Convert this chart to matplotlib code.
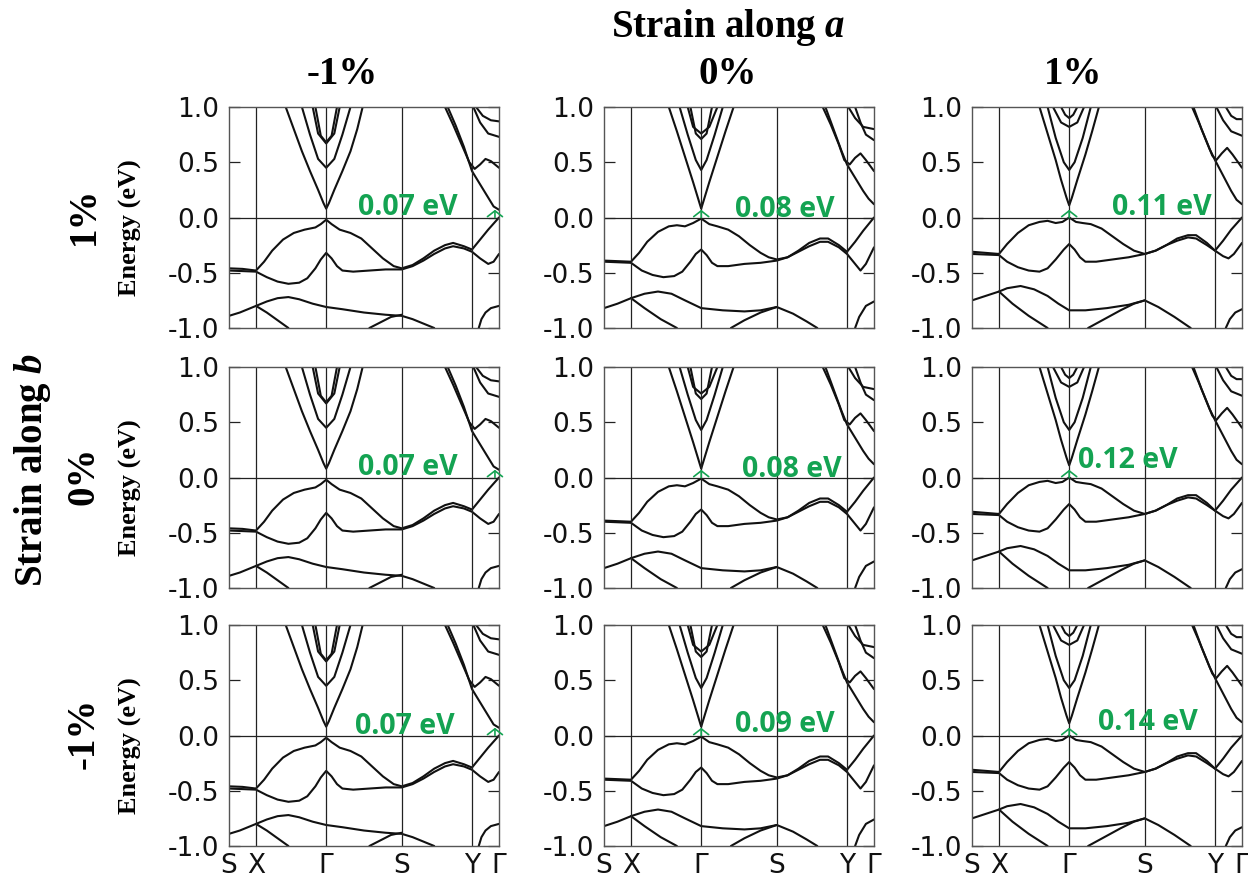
"""
Band structures of the strained monolayer: 3x3 grid
(strain along a across columns, strain along b down rows).
"""
import matplotlib
matplotlib.use('Agg')
import matplotlib.pyplot as plt

# ==============================================================================
# Data
# ==============================================================================
K_POS = [0.0, 0.10, 0.36, 0.64, 0.90, 1.0]
K_LABELS = ['S', 'X', 'Γ', 'S', 'Y', 'Γ']
STRAIN_A = ['-1%', '0%', '1%']
STRAIN_B = ['1%', '0%', '-1%']
GAPS = [['0.07 eV', '0.08 eV', '0.11 eV'],
        ['0.07 eV', '0.08 eV', '0.12 eV'],
        ['0.07 eV', '0.09 eV', '0.14 eV']]
# k of the gap arrow for each column
GAP_K = [0.985, 0.36, 0.36]

# bands for strain a = -1%  (list of (k, E) points per band)
BANDS_A_M1 = [
    [(0.21, 1.0), (0.24, 0.80), (0.27, 0.60), (0.30, 0.42), (0.33, 0.25), (0.35, 0.13), (0.36, 0.08),
     (0.37, 0.13), (0.39, 0.25), (0.42, 0.42), (0.45, 0.60), (0.475, 0.80), (0.495, 1.0)],
    [(0.27, 1.0), (0.30, 0.75), (0.33, 0.53), (0.36, 0.45), (0.39, 0.53), (0.42, 0.75), (0.45, 1.0)],
    [(0.31, 1.0), (0.33, 0.76), (0.36, 0.67), (0.39, 0.76), (0.41, 1.0)],
    [(0.32, 1.0), (0.34, 0.74), (0.36, 0.68), (0.38, 0.74), (0.40, 1.0)],
    [(0.80, 1.0), (0.83, 0.84), (0.86, 0.67), (0.89, 0.50), (0.91, 0.44), (0.93, 0.48), (0.95, 0.53),
     (0.97, 0.51), (1.0, 0.45)],
    [(0.81, 1.0), (0.84, 0.83), (0.87, 0.64), (0.90, 0.42), (0.93, 0.30), (0.96, 0.18), (0.98, 0.10),
     (1.0, 0.07)],
    [(0.905, 1.0), (0.93, 0.86), (0.96, 0.76), (1.0, 0.73)],
    [(0.915, 1.0), (0.94, 0.92), (0.97, 0.88), (1.0, 0.87)],
    [(0.0, -0.46), (0.05, -0.465), (0.1, -0.48), (0.13, -0.40), (0.16, -0.30), (0.20, -0.20),
     (0.24, -0.14), (0.28, -0.11), (0.32, -0.09), (0.34, -0.06), (0.36, -0.02), (0.38, -0.06),
     (0.41, -0.11), (0.45, -0.14), (0.49, -0.19), (0.53, -0.28), (0.57, -0.37), (0.61, -0.44),
     (0.64, -0.46), (0.68, -0.43), (0.72, -0.37), (0.76, -0.30), (0.80, -0.25), (0.83, -0.23),
     (0.87, -0.26), (0.90, -0.29), (0.93, -0.20), (0.96, -0.11), (1.0, 0.0)],
    [(0.0, -0.48), (0.05, -0.485), (0.1, -0.49), (0.14, -0.54), (0.18, -0.58), (0.22, -0.60),
     (0.26, -0.59), (0.29, -0.55), (0.32, -0.46), (0.34, -0.38), (0.36, -0.32), (0.38, -0.37),
     (0.40, -0.44), (0.42, -0.48), (0.46, -0.49), (0.52, -0.48), (0.58, -0.47), (0.64, -0.47),
     (0.68, -0.44), (0.72, -0.39), (0.76, -0.33), (0.80, -0.28), (0.83, -0.26), (0.87, -0.28),
     (0.90, -0.31), (0.93, -0.37), (0.96, -0.42), (0.98, -0.40), (1.0, -0.33)],
    [(0.0, -0.89), (0.04, -0.86), (0.1, -0.80), (0.14, -0.76), (0.18, -0.73), (0.22, -0.72),
     (0.26, -0.74), (0.31, -0.78), (0.36, -0.81), (0.42, -0.83), (0.5, -0.86), (0.58, -0.88),
     (0.64, -0.89), (0.68, -0.92), (0.72, -0.96), (0.76, -1.0)],
    [(0.1, -0.80), (0.14, -0.86), (0.18, -0.93), (0.22, -1.0)],
    [(0.52, -1.0), (0.56, -0.95), (0.60, -0.90), (0.64, -0.88)],
    [(0.925, -1.0), (0.935, -0.92), (0.95, -0.86), (0.97, -0.82), (1.0, -0.80)],
]

# bands for strain a = 0%
BANDS_A_0 = [
    [(0.24, 1.0), (0.27, 0.78), (0.30, 0.55), (0.33, 0.32), (0.35, 0.16), (0.36, 0.08),
     (0.37, 0.16), (0.39, 0.32), (0.42, 0.55), (0.45, 0.78), (0.48, 1.0)],
    [(0.28, 1.0), (0.31, 0.75), (0.34, 0.52), (0.36, 0.43), (0.38, 0.52), (0.41, 0.75), (0.44, 1.0)],
    [(0.31, 1.0), (0.33, 0.82), (0.36, 0.76), (0.39, 0.82), (0.42, 1.0)],
    [(0.32, 1.0), (0.34, 0.76), (0.36, 0.71), (0.38, 0.76), (0.40, 1.0)],
    [(0.81, 1.0), (0.84, 0.84), (0.87, 0.66), (0.89, 0.52), (0.91, 0.48), (0.93, 0.54), (0.95, 0.58),
     (0.97, 0.52), (1.0, 0.42)],
    [(0.82, 1.0), (0.85, 0.80), (0.88, 0.60), (0.90, 0.48), (0.93, 0.36), (0.96, 0.24), (0.98, 0.17),
     (1.0, 0.12)],
    [(0.905, 1.0), (0.93, 0.90), (0.96, 0.82), (1.0, 0.80)],
    [(0.93, 1.0), (0.95, 0.86), (0.97, 0.75), (1.0, 0.70)],
    [(0.0, -0.39), (0.05, -0.395), (0.1, -0.40), (0.13, -0.32), (0.16, -0.22), (0.20, -0.13),
     (0.24, -0.08), (0.27, -0.07), (0.30, -0.08), (0.33, -0.05), (0.36, -0.01), (0.39, -0.06),
     (0.42, -0.08), (0.46, -0.11), (0.50, -0.17), (0.54, -0.25), (0.58, -0.32), (0.61, -0.36),
     (0.64, -0.38), (0.68, -0.36), (0.72, -0.30), (0.76, -0.23), (0.80, -0.19), (0.83, -0.19),
     (0.87, -0.25), (0.90, -0.31), (0.93, -0.22), (0.96, -0.12), (1.0, 0.0)],
    [(0.0, -0.40), (0.05, -0.405), (0.1, -0.41), (0.14, -0.48), (0.18, -0.52), (0.22, -0.54),
     (0.26, -0.53), (0.29, -0.49), (0.32, -0.40), (0.34, -0.33), (0.36, -0.29), (0.38, -0.34),
     (0.40, -0.41), (0.42, -0.44), (0.46, -0.44), (0.52, -0.42), (0.58, -0.41), (0.64, -0.39),
     (0.68, -0.36), (0.72, -0.31), (0.76, -0.26), (0.80, -0.22), (0.83, -0.22), (0.87, -0.27),
     (0.90, -0.33), (0.93, -0.42), (0.95, -0.48), (0.97, -0.42), (1.0, -0.27)],
    [(0.0, -0.82), (0.05, -0.78), (0.1, -0.73), (0.15, -0.69), (0.20, -0.67), (0.25, -0.69),
     (0.30, -0.75), (0.36, -0.82), (0.44, -0.84), (0.52, -0.85), (0.58, -0.84), (0.64, -0.81),
     (0.70, -0.87), (0.75, -0.94), (0.79, -1.0)],
    [(0.1, -0.73), (0.15, -0.82), (0.21, -0.92), (0.27, -1.0)],
    [(0.47, -1.0), (0.52, -0.93), (0.58, -0.86), (0.64, -0.81)],
    [(0.93, -1.0), (0.945, -0.90), (0.97, -0.80), (1.0, -0.76)],
]

# bands for strain a = +1%
BANDS_A_P1 = [
    [(0.25, 1.0), (0.28, 0.76), (0.31, 0.52), (0.33, 0.34), (0.35, 0.18), (0.36, 0.11),
     (0.37, 0.18), (0.39, 0.34), (0.42, 0.57), (0.445, 0.78), (0.47, 1.0)],
    [(0.28, 1.0), (0.31, 0.72), (0.34, 0.50), (0.36, 0.43), (0.38, 0.50), (0.41, 0.72), (0.44, 1.0)],
    [(0.30, 1.0), (0.33, 0.86), (0.36, 0.82), (0.39, 0.86), (0.415, 1.0)],
    [(0.33, 1.0), (0.345, 0.93), (0.36, 0.90), (0.375, 0.93), (0.39, 1.0)],
    [(0.815, 1.0), (0.84, 0.86), (0.87, 0.68), (0.89, 0.56), (0.905, 0.52), (0.925, 0.58),
     (0.945, 0.63), (0.965, 0.57), (1.0, 0.45)],
    [(0.82, 1.0), (0.85, 0.80), (0.88, 0.62), (0.90, 0.52), (0.93, 0.38), (0.96, 0.24), (0.98, 0.16),
     (1.0, 0.12)],
    [(0.905, 1.0), (0.93, 0.88), (0.96, 0.78), (1.0, 0.74)],
    [(0.94, 1.0), (0.96, 0.92), (0.98, 0.89), (1.0, 0.89)],
    [(0.0, -0.31), (0.05, -0.32), (0.1, -0.33), (0.13, -0.24), (0.17, -0.14), (0.21, -0.07),
     (0.25, -0.04), (0.28, -0.03), (0.31, -0.05), (0.335, -0.04), (0.36, 0.0), (0.385, -0.04),
     (0.41, -0.05), (0.44, -0.06), (0.48, -0.10), (0.52, -0.17), (0.56, -0.24), (0.60, -0.30),
     (0.64, -0.33), (0.68, -0.30), (0.72, -0.25), (0.76, -0.19), (0.80, -0.16), (0.83, -0.16),
     (0.87, -0.23), (0.90, -0.30), (0.93, -0.21), (0.96, -0.11), (1.0, 0.0)],
    [(0.0, -0.33), (0.05, -0.335), (0.1, -0.34), (0.13, -0.40), (0.17, -0.45), (0.21, -0.48),
     (0.25, -0.49), (0.28, -0.46), (0.31, -0.38), (0.34, -0.29), (0.36, -0.24), (0.38, -0.29),
     (0.40, -0.36), (0.42, -0.40), (0.46, -0.40), (0.52, -0.38), (0.58, -0.36), (0.64, -0.33),
     (0.68, -0.30), (0.72, -0.25), (0.76, -0.21), (0.80, -0.18), (0.83, -0.19), (0.87, -0.25),
     (0.90, -0.30), (0.93, -0.35), (0.95, -0.37), (0.97, -0.33), (1.0, -0.23)],
    [(0.0, -0.75), (0.05, -0.71), (0.1, -0.67), (0.13, -0.64), (0.18, -0.62), (0.23, -0.65),
     (0.28, -0.71), (0.32, -0.78), (0.36, -0.84), (0.42, -0.84), (0.50, -0.82), (0.58, -0.79),
     (0.64, -0.75), (0.69, -0.81), (0.75, -0.90), (0.81, -1.0)],
    [(0.1, -0.67), (0.15, -0.78), (0.21, -0.89), (0.28, -1.0)],
    [(0.43, -1.0), (0.49, -0.92), (0.55, -0.84), (0.60, -0.78), (0.64, -0.75)],
    [(0.94, -1.0), (0.955, -0.92), (0.975, -0.86), (1.0, -0.83)],
]

BANDS_BY_COL = [BANDS_A_M1, BANDS_A_0, BANDS_A_P1]

# ==============================================================================
# Layout / style
# ==============================================================================
W_PX, H_PX = 1248, 886
AX_LEFT_PX = [229, 604, 972]
AX_TOP_PX = [107, 367, 625]
AX_W_PX, AX_H_PX = 270, 221
# gap label anchor (k, E) per panel
GAP_TEXT_XY = [[(0.476, 0.095), (0.485, 0.068), (0.52, 0.086)],
               [(0.476, 0.095), (0.51, 0.068), (0.393, 0.158)],
               [(0.465, 0.085), (0.485, 0.103), (0.467, 0.121)]]
GREEN = '#14a352'
SERIF = 'Liberation Serif'

plt.rcParams['font.family'] = 'DejaVu Sans'
plt.rcParams['mathtext.fontset'] = 'custom'
plt.rcParams['mathtext.it'] = 'Liberation Serif:italic:bold'
plt.rcParams['mathtext.rm'] = 'Liberation Serif:bold'


def draw_panel(ax, bands, gap_text, gap_xy, gap_k, bottom_row):
    for band in bands:
        ks = [p[0] for p in band]
        es = [p[1] for p in band]
        ax.plot(ks, es, color='#111111', lw=1.5, solid_joinstyle='round',
                solid_capstyle='round')
    for k in K_POS[1:-1]:
        ax.axvline(k, color='#222222', lw=0.9)
    ax.axhline(0.0, color='#222222', lw=0.9)

    ax.set_xlim(0, 1)
    ax.set_ylim(-1, 1)
    ax.set_yticks([-1.0, -0.5, 0.0, 0.5, 1.0])
    ax.set_yticklabels(['-1.0', '-0.5', '0.0', '0.5', '1.0'])
    ax.tick_params(axis='y', direction='in', length=8, width=0.9, right=True,
                   labelsize=19, pad=7, colors='#222222', labelcolor='#111111')
    ax.set_xticks(K_POS)
    if bottom_row:
        ax.set_xticklabels(K_LABELS)
    else:
        ax.set_xticklabels([])
    ax.tick_params(axis='x', length=0, labelsize=19, pad=5, labelcolor='#111111')
    for sp in ax.spines.values():
        sp.set_linewidth(1.0)
        sp.set_color('#555555')

    ax.text(gap_xy[0], gap_xy[1], gap_text, color=GREEN, fontsize=20.5,
            fontweight='bold', ha='left', va='center', family='Open Sans')
    ax.annotate('', xy=(gap_k, 0.07), xytext=(gap_k, 0.0),
                arrowprops=dict(arrowstyle='->,head_width=0.45,head_length=0.35',
                                color=GREEN, lw=1.2, mutation_scale=12,
                                shrinkA=0, shrinkB=0))


fig = plt.figure(figsize=(W_PX / 100, H_PX / 100), dpi=100)

for r in range(3):
    for c in range(3):
        rect = [AX_LEFT_PX[c] / W_PX, 1 - (AX_TOP_PX[r] + AX_H_PX) / H_PX,
                AX_W_PX / W_PX, AX_H_PX / H_PX]
        ax = fig.add_axes(rect)
        draw_panel(ax, BANDS_BY_COL[c], GAPS[r][c], GAP_TEXT_XY[r][c],
                   GAP_K[c], r == 2)

# titles and side labels
fig.text(728 / W_PX, 1 - 28 / H_PX, r'Strain along $\mathit{a}$', fontsize=28,
         fontweight='bold', family=SERIF, ha='center', va='center')
for c, (lab, xpx) in enumerate(zip(STRAIN_A, [342, 728, 1073])):
    fig.text(xpx / W_PX, 1 - 74 / H_PX, lab, fontsize=28, fontweight='bold',
             family=SERIF, ha='center', va='center')

fig.text(33 / W_PX, 1 - 470 / H_PX, r'Strain along $\mathit{b}$', fontsize=28,
         fontweight='bold', family=SERIF, ha='center', va='center', rotation=90)
for r, lab in enumerate(STRAIN_B):
    yc = AX_TOP_PX[r] + AX_H_PX / 2
    fig.text(84 / W_PX, 1 - (yc - 2) / H_PX, lab, fontsize=28, fontweight='bold',
             family=SERIF, ha='center', va='center', rotation=90)
    fig.text(130 / W_PX, 1 - (yc + 10) / H_PX, 'Energy (eV)', fontsize=19,
             fontweight='bold', family=SERIF, ha='center', va='center', rotation=90)

fig.savefig('out.png', dpi=100)
